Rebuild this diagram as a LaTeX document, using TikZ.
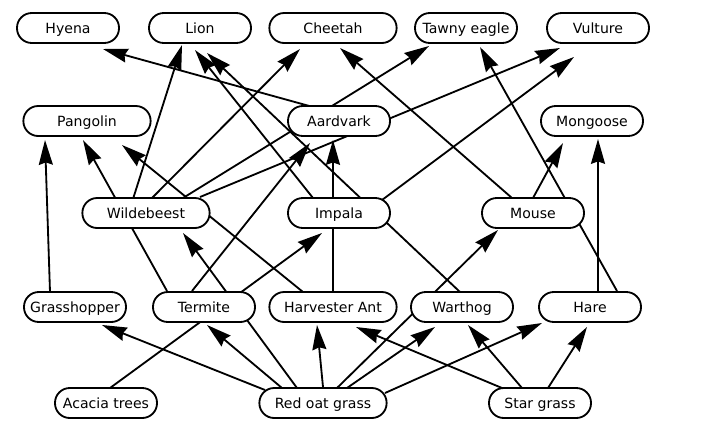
\documentclass[tikz,border=0pt]{standalone}
\usepackage{fontspec}
\setmainfont{DejaVu Sans}
\usetikzlibrary{arrows.meta,calc,backgrounds}
\tikzset{
	animal/.style = {shape=rectangle, rounded corners=0.37cm,
		draw, line width=1.3pt, fill=white, anchor=center,
		minimum width=2.55cm, minimum height=0.75cm,
		text height=7.3pt, text depth=0pt,
		inner sep=0pt, font=\fontsize{10}{12}\selectfont},
	wide/.style   = {animal, minimum width=3.18cm},
	link/.style   = {line width=1.3pt,
		-{Stealth[length=0.62cm,width=0.35cm,inset=0.06cm]}}
}

\begin{document}
\begin{tikzpicture}[x=0.025cm, y=-0.025cm]
	\useasboundingbox (0,0) rectangle (712,430);
	\node [animal] at (68,28)   (hyena) {Hyena};
	\node [animal] at (200,28)  (lion) {Lion};
	\node [wide]   at (333,28)  (cheetah) {Cheetah};
	\node [animal] at (466,28)  (eagle) {Tawny eagle};
	\node [animal] at (598,28)  (vulture) {Vulture};
	\node [wide]   at (87,121)  (pangolin) {Pangolin};
	\node [animal] at (339,121) (aardvark) {Aardvark};
	\node [animal] at (592,121) (mongoose) {Mongoose};
	\node [wide]   at (146,213) (wildebeest) {Wildebeest};
	\node [animal] at (339,213) (impala) {Impala};
	\node [animal] at (533,213) (mouse) {Mouse};
	\node [animal] at (75,307)  (grasshopper) {Grasshopper};
	\node [animal] at (204,307) (termite) {Termite};
	\node [wide]   at (333,307) (ant) {Harvester Ant};
	\node [animal] at (462,307) (warthog) {Warthog};
	\node [animal] at (590,307) (hare) {Hare};
	\node [animal] at (106,403) (acacia) {Acacia trees};
	\node [wide]   at (323,403) (redoat) {Red oat grass};
	\node [animal] at (540,403) (star) {Star grass};
	
	\begin{scope}[on background layer]
	\draw [link] ($(aardvark)+(-26,-14)$) -- ($(hyena)+(35,21)$);
	\draw [link] ($(wildebeest)+(-13,-14)$) -- ($(lion)+(-18,17)$);
	\draw [link] ($(impala)+(-26,-15)$) -- ($(lion)+(-5,22)$);
	\draw [link] ($(warthog)+(-2,-15)$) -- ($(lion)+(7,25)$);
	\draw [link] ($(wildebeest)+(6,-15)$) -- ($(cheetah)+(-33,21)$);
	\draw [link] ($(mouse)+(-21,-15)$) -- ($(cheetah)+(7,20)$);
	\draw [link] ($(wildebeest)+(37,-15)$) -- ($(eagle)+(-37,18)$);
	\draw [link] ($(hare)+(27,-16)$) -- ($(eagle)+(14,19)$);
	\draw [link] ($(wildebeest)+(54,-16)$) -- ($(vulture)+(-38,20)$);
	\draw [link] ($(impala)+(43,-13)$) -- ($(vulture)+(-24,29)$);
	\draw [link] ($(grasshopper)+(-25,-15)$) -- ($(pangolin)+(-42,19)$);
	\draw [link] ($(termite)+(-37,-16)$) -- ($(pangolin)+(-4,19)$);
	\draw [link] ($(ant)+(-30,-15)$) -- ($(pangolin)+(35,24)$);
	\draw [link] ($(termite)+(-12,-16)$) -- ($(aardvark)+(-29,22)$);
	\draw [link] ($(ant)+(0,-15)$) -- ($(aardvark)+(-6,19)$);
	\draw [link] ($(mouse)+(0,-15)$) -- ($(mongoose)+(-29,22)$);
	\draw [link] ($(hare)+(8,-15)$) -- ($(mongoose)+(6,18)$);
	\draw [link] ($(redoat)+(-26,-15)$) -- ($(wildebeest)+(37,20)$);
	\draw [link] ($(acacia)+(4,-15)$) -- ($(impala)+(-17,20)$);
	\draw [link] ($(redoat)+(14,-15)$) -- ($(mouse)+(-35,17)$);
	\draw [link] ($(redoat)+(-58,-13)$) -- ($(grasshopper)+(27,18)$);
	\draw [link] ($(redoat)+(-41,-15)$) -- ($(termite)+(3,18)$);
	\draw [link] ($(redoat)+(0,-16)$) -- ($(ant)+(-16,18)$);
	\draw [link] ($(redoat)+(24,-15)$) -- ($(warthog)+(-27,20)$);
	\draw [link] ($(redoat)+(62,-10)$) -- ($(hare)+(-48,16)$);
	\draw [link] ($(star)+(-38,-15)$) -- ($(ant)+(23,20)$);
	\draw [link] ($(star)+(-18,-15)$) -- ($(warthog)+(6,18)$);
	\draw [link] ($(star)+(8,-15)$) -- ($(hare)+(-3,20)$);
	\end{scope}
\end{tikzpicture}
\end{document}
